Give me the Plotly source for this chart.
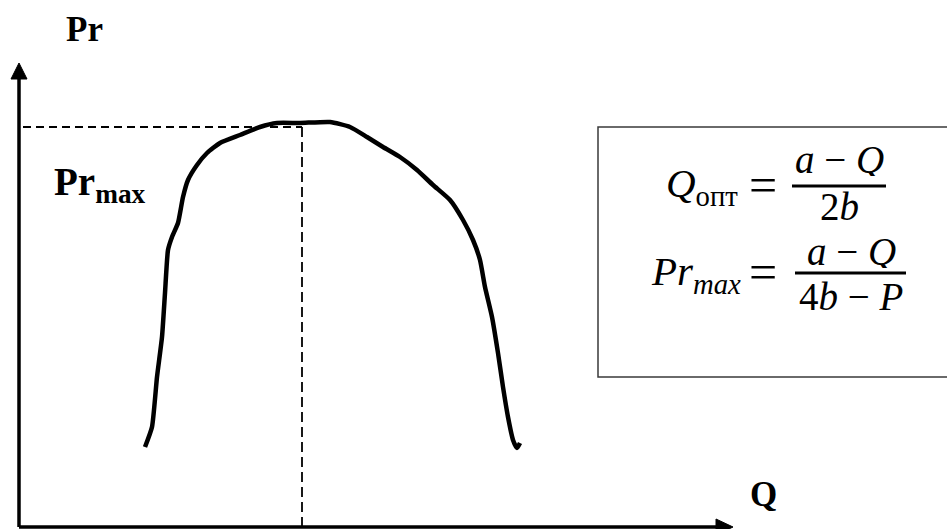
import plotly.graph_objects as go

W, H = 947, 529
# data: values (Q to the right, Pr up), origin at the axes corner
q_values = [126, 133, 138, 143, 146, 149, 153, 159, 164, 169, 178, 188, 201, 221, 241, 258,
            281, 311, 331, 348, 364, 381, 398, 414, 431, 444, 454, 461, 466, 473, 479, 484,
            489, 494, 498, 501]
pr_values = [80, 100, 150, 190, 234, 277, 290, 304, 330, 347, 362, 374, 384, 392, 400, 404,
             404, 405, 400, 390, 380, 370, 357, 342, 327, 307, 287, 267, 240, 210, 174, 140,
             110, 87, 79, 84]
q_opt = 283
pr_max = 400
q_axis_end = 714
pr_axis_end = 464

X0, Y0 = 19, 527  # pixel of origin


def px(x):
    return x / W


def py(y):
    return 1 - y / H


fig = go.Figure()

fig.add_trace(go.Scatter(x=q_values, y=pr_values, mode="lines",
                         line=dict(color="black", width=4.5, shape="spline", smoothing=0.5),
                         hoverinfo="skip", showlegend=False))

# dashed guides
fig.add_trace(go.Scatter(x=[4, q_opt], y=[pr_max, pr_max], mode="lines",
                         line=dict(color="black", width=1.8, dash="8px,5px"),
                         hoverinfo="skip", showlegend=False))
fig.add_trace(go.Scatter(x=[q_opt, q_opt], y=[pr_max, 0], mode="lines",
                         line=dict(color="black", width=1.8, dash="10px,5px"),
                         hoverinfo="skip", showlegend=False))

shapes = []
# axes lines
shapes.append(dict(type="line", xref="x", yref="y", x0=0, y0=0, x1=0, y1=pr_axis_end - 12,
                   line=dict(color="black", width=3.5)))
shapes.append(dict(type="line", xref="x", yref="y", x0=0, y0=0, x1=q_axis_end - 12, y1=0,
                   line=dict(color="black", width=3.5)))
# arrow heads
shapes.append(dict(type="path", xref="x", yref="y",
                   path=f"M -8,{pr_axis_end-16} L 0,{pr_axis_end} L 8,{pr_axis_end-16} Z",
                   fillcolor="black", line=dict(color="black", width=1)))
shapes.append(dict(type="path", xref="x", yref="y",
                   path=f"M {q_axis_end-17},8 L {q_axis_end},0 L {q_axis_end-17},-8 Z",
                   fillcolor="black", line=dict(color="black", width=1)))
# formula box
shapes.append(dict(type="rect", xref="paper", yref="paper", x0=px(598), y0=py(377),
                   x1=px(948), y1=py(127), line=dict(color="#3a3a3a", width=1.5)))
# fraction bars
shapes.append(dict(type="line", xref="paper", yref="paper", x0=px(792), x1=px(886),
                   y0=py(186), y1=py(186), line=dict(color="black", width=3)))
shapes.append(dict(type="line", xref="paper", yref="paper", x0=px(795), x1=px(906),
                   y0=py(273), y1=py(273), line=dict(color="black", width=3)))

serif_b = dict(family="Liberation Serif", size=35, color="black")
serif_b2 = dict(family="Liberation Serif", size=39, color="black")
math_f = dict(family="Liberation Serif", size=41, color="black")
frac_f = dict(family="Liberation Serif", size=39, color="black")
eq_f = dict(family="Liberation Serif", size=50, color="black")

ann = []


def text(x, y, s, font, xanchor="center", h=None):
    d = dict(x=px(x), y=py(y), xref="paper", yref="paper", text=s, showarrow=False,
             font=font, xanchor=xanchor, yanchor="middle")
    if h:
        d["height"] = h
        d["valign"] = "middle"
    ann.append(d)


text(84, 30, "<b>Pr</b>", serif_b)
text(52, 184, "<b>Pr<sub>max</sub></b>", serif_b2, xanchor="left")
text(763, 494, "<b>Q</b>", serif_b)

# formula 1
text(740, 186, "<i>Q</i><sub>опт</sub>", math_f, xanchor="right")
text(763, 185, "=", eq_f)
text(839, 159, "<i>a</i> − <i>Q</i>", frac_f, h=34)
text(839, 206, "2<i>b</i>", frac_f, h=34)
# formula 2
text(743, 274, "<i>Pr<sub>max</sub></i>", math_f, xanchor="right")
text(763, 272, "=", eq_f)
text(851, 251, "<i>a</i> − <i>Q</i>", frac_f, h=34)
text(851, 296, "4<i>b</i> − <i>P</i>", frac_f, h=34)

fig.update_layout(
    width=W, height=H, margin=dict(l=0, r=0, t=0, b=0),
    paper_bgcolor="white", plot_bgcolor="white",
    xaxis=dict(range=[-X0, W - X0], visible=False, fixedrange=True),
    yaxis=dict(range=[Y0 - H, Y0], visible=False, fixedrange=True),
    shapes=shapes, annotations=ann, showlegend=False,
)

fig.write_html("out.html",
               config={"displayModeBar": False},
               post_script="document.body.style.margin='0px';document.body.style.padding='0px';"
                           "document.body.style.overflow='hidden';")
